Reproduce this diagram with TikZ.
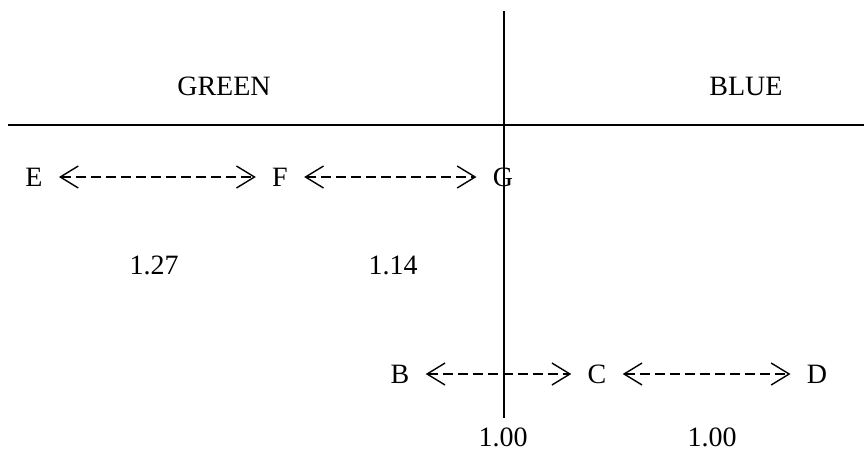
\documentclass[tikz,border=0pt]{standalone}
\usepackage{fontspec}
\setmainfont{Liberation Serif}
\usetikzlibrary{arrows.meta,positioning}

\begin{document}
\begin{tikzpicture}[
    x=0.5pt, y=-0.5pt,
    font=\fontsize{14}{16}\selectfont,
    pt/.style={inner xsep=8pt, inner ysep=2pt},
    lbl/.style={inner sep=0pt},
    rule/.style={line width=1pt},
    dist/.style={{Straight Barb[length=9pt,width=11pt,line width=0.7pt]}-{Straight Barb[length=9pt,width=11pt,line width=0.7pt]},
        line width=0.8pt, dash pattern=on 5pt off 2.5pt}
]
\useasboundingbox (0,0) rectangle (864,452);

% axes
\coordinate (top) at (504,11);
\coordinate (bot) at (504,418);
\coordinate (left) at (8,125);
\coordinate (right) at (864,125);
\draw[rule] (top) -- (bot);
\draw[rule] (left) -- (right);

% headings
\node[lbl] (green) at (224,86) {GREEN};
\node[lbl] (blue) at (746,86) {BLUE};

% upper row
\node[pt] (E) at (34,177) {E};
\node[pt] (F) at (280,177) {F};
\node[pt] (G) at (503,177) {G};
\draw[dist] (E) -- (F);
\draw[dist] (F) -- (G);
\node[lbl] (ef) at (154,265) {1.27};
\node[lbl] (fg) at (393,265) {1.14};

% lower row
\node[pt] (B) at (400,374) {B};
\node[pt] (C) at (597,374) {C};
\node[pt] (D) at (817,374) {D};
\draw[dist] (B) -- (C);
\draw[dist] (C) -- (D);
\node[lbl] (bc) at (503,437) {1.00};
\node[lbl] (cd) at (712,437) {1.00};
\end{tikzpicture}
\end{document}
